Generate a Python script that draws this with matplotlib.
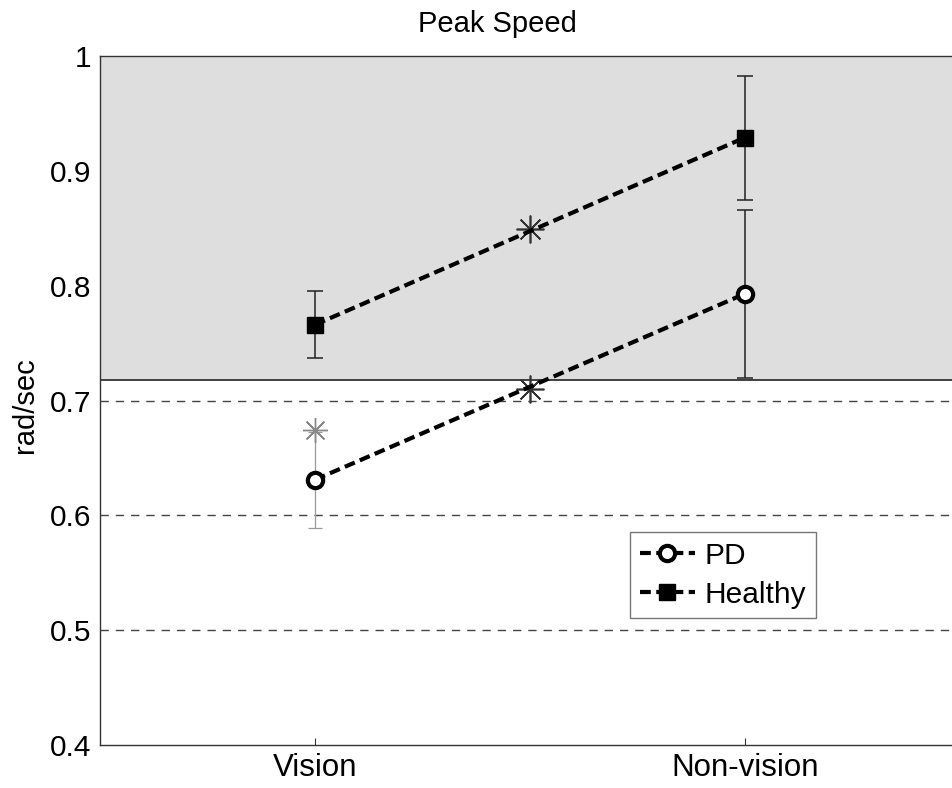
import matplotlib
matplotlib.use("Agg")
import matplotlib.pyplot as plt

# Group means and standard errors of peak speed (rad/sec)
conditions = ["Vision", "Non-vision"]
pd_mean = [0.631, 0.793]
pd_err = [0.042, 0.073]
healthy_mean = [0.766, 0.929]
healthy_err = [0.029, 0.054]

# Significance markers
star_x = [1.0, 1.5, 1.5]
star_y = [0.674, 0.849, 0.710]

# Normal-range band and reference levels
band_low, band_high = 0.718, 1.0
grid_levels = [0.5, 0.6, 0.7]
y_ticks = [0.4, 0.5, 0.6, 0.7, 0.8, 0.9, 1.0]
y_tick_labels = ["0.4", "0.5", "0.6", "0.7", "0.8", "0.9", "1"]

plt.rcParams["font.family"] = ["Liberation Sans", "DejaVu Sans"]

W, H = 953, 788
fig = plt.figure(figsize=(W / 100, H / 100), dpi=100)
ax = fig.add_axes([100 / W, (H - 745) / H, 860 / W, 689 / H])
ax.set_xlim(0.5, 2.5)
ax.set_ylim(0.4, 1.0)

ax.axhspan(band_low, band_high, facecolor="#dedede", lw=0, zorder=0)
ax.axhline(band_low, color="#333333", lw=1.3, zorder=1)
for g in grid_levels:
    ax.axhline(g, color="#444444", lw=1.0, ls=(0, (6, 5)), zorder=1)

xpos = [1, 2]

# Error bars
ax.errorbar([xpos[0]], [pd_mean[0]], yerr=[pd_err[0]], fmt="none",
            ecolor="#999999", elinewidth=0.9, capsize=5, capthick=0.9, zorder=2)
ax.errorbar([xpos[1]], [pd_mean[1]], yerr=[pd_err[1]], fmt="none",
            ecolor="#222222", elinewidth=1.1, capsize=6, capthick=1.1, zorder=2)
ax.errorbar(xpos, healthy_mean, yerr=healthy_err, fmt="none",
            ecolor="#222222", elinewidth=1.1, capsize=6, capthick=1.1, zorder=2)

# Asterisks
ax.plot(star_x[:1], star_y[:1], ls="none", marker=(8, 2, 0), ms=18,
        mec="#888888", mew=1.0, zorder=3)
ax.plot(star_x[1:], star_y[1:], ls="none", marker=(8, 2, 0), ms=20,
        mec="#333333", mew=1.2, zorder=3)

# Group lines
ax.plot(xpos, pd_mean, color="black", lw=3, ls=(0, (2.6, 1.3)),
        marker="o", ms=11, mfc="white", mec="black", mew=3, zorder=4, label="PD")
ax.plot(xpos, healthy_mean, color="black", lw=3, ls=(0, (2.6, 1.3)),
        marker="s", ms=11, mfc="black", mec="black", zorder=4, label="Healthy")

ax.set_xticks(xpos)
ax.set_xticklabels(conditions, fontsize=22.5)
ax.set_yticks(y_ticks)
ax.set_yticklabels(y_tick_labels, fontsize=21.5)
ax.tick_params(axis="both", direction="in", length=5, width=0.8, color="#333333")
ax.tick_params(axis="x", pad=6)
ax.tick_params(axis="y", pad=6, length=0)
for s in ax.spines.values():
    s.set_color("#333333")
    s.set_linewidth(1.0)

fig.text(497 / W, 1 - 24 / H, "Peak Speed", fontsize=21, ha="center", va="center")
fig.text(25 / W, 1 - 405 / H, "rad/sec", fontsize=21, rotation=90,
         ha="center", va="center")

leg = ax.legend(loc="upper left", bbox_to_anchor=((630 - 100) / 860, (745 - 532) / 689),
                borderaxespad=0, fontsize=21.5, frameon=True, fancybox=False,
                edgecolor="#555555", handlelength=1.85, handletextpad=0.33,
                borderpad=0.32, labelspacing=0.38)
leg.get_frame().set_linewidth(1.0)

fig.savefig("out.png", dpi=100)
